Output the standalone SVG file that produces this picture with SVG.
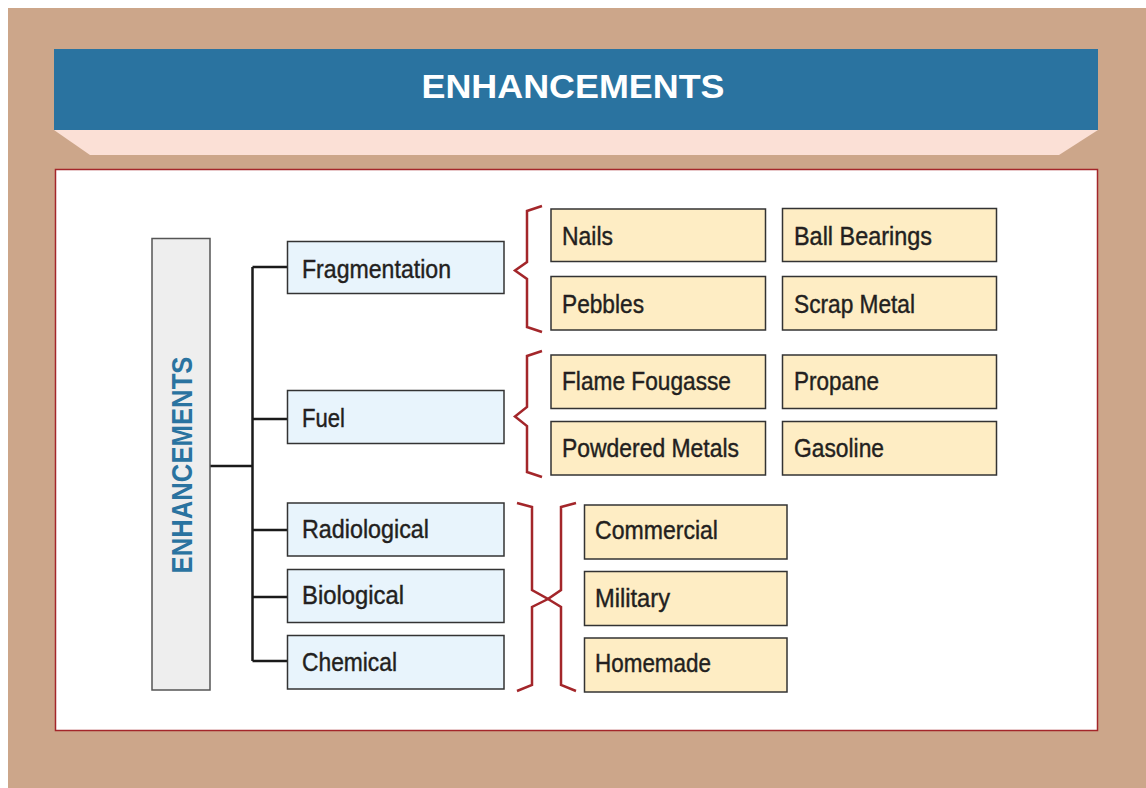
<svg xmlns="http://www.w3.org/2000/svg" width="1146" height="788" viewBox="0 0 1146 788">
<style>
.txt{font-family:"Liberation Sans",Arial,sans-serif;font-size:25px;fill:#231F20;stroke:#231F20;stroke-width:0.4}
.cat{fill:#E8F4FC;stroke:#333;stroke-width:1.5}
.item{fill:#FEEDC4;stroke:#333;stroke-width:1.5}
.brace{fill:none;stroke:#A3262A;stroke-width:2.5;stroke-linejoin:miter}
.conn{fill:none;stroke:#1A1A1A;stroke-width:2.5}
</style>
<rect x="0" y="0" width="1146" height="788" fill="#FFFFFF"/>
<rect x="8" y="8" width="1138" height="780" fill="#CCA68A"/>
<g id="header">
<rect x="54" y="49" width="1044" height="81" fill="#2A73A0"/>
<polygon points="54,130 1098,130 1059,155 90,155" fill="#FBE0D6"/>
<text x="573" y="97.5" text-anchor="middle" font-family="Liberation Sans,Arial,sans-serif" font-weight="bold" font-size="33.5" fill="#FFFFFF" textLength="303" lengthAdjust="spacingAndGlyphs">ENHANCEMENTS</text>
</g>
<rect x="55.5" y="169.5" width="1042" height="561" fill="#FFFFFF" stroke="#A3262A" stroke-width="1.5"/>
<g id="connectors">
<path class="conn" d="M210,466 H253 M252.5,267 V661 M252.5,267 H287 M252.5,419 H287 M252.5,530 H287 M252.5,597 H287 M252.5,661 H287"/>
<path class="brace" d="M542,206 L527,211 L527,262 L515,270.5 L527,279 L527,327 L542,332"/>
<path class="brace" d="M542,351 L527,356 L527,407 L515,416.5 L527,426 L527,472 L542,477"/>
<path class="brace" d="M517,503 L532,507 L532,590 L548,599 L532,607 L532,685 L517,691"/>
<path class="brace" d="M576,503 L561,507 L561,590 L548,599 L561,607 L561,685 L576,691"/>
</g>
<g id="root">
<rect x="152" y="238.5" width="58" height="451.5" fill="#EEEEEE" stroke="#555" stroke-width="1.5"/>
<text transform="translate(191.5,465) rotate(-90)" x="0" y="0" text-anchor="middle" font-family="Liberation Sans,Arial,sans-serif" font-weight="bold" font-size="29" fill="#2A73A0" textLength="217" lengthAdjust="spacingAndGlyphs">ENHANCEMENTS</text>
</g>
<g id="fragmentation"><rect class="cat" x="287.5" y="241.5" width="216.5" height="52"/><text class="txt" x="302" y="278" textLength="149" lengthAdjust="spacingAndGlyphs">Fragmentation</text></g>
<g id="fuel"><rect class="cat" x="287.5" y="390.5" width="216.5" height="53"/><text class="txt" x="302" y="427" textLength="43" lengthAdjust="spacingAndGlyphs">Fuel</text></g>
<g id="radiological"><rect class="cat" x="287.5" y="503" width="216.5" height="53"/><text class="txt" x="302" y="537.5" textLength="127" lengthAdjust="spacingAndGlyphs">Radiological</text></g>
<g id="biological"><rect class="cat" x="287.5" y="569.5" width="216.5" height="53"/><text class="txt" x="302" y="604" textLength="102" lengthAdjust="spacingAndGlyphs">Biological</text></g>
<g id="chemical"><rect class="cat" x="287.5" y="635.5" width="216.5" height="53.5"/><text class="txt" x="302" y="670.5" textLength="95" lengthAdjust="spacingAndGlyphs">Chemical</text></g>
<g id="nails"><rect class="item" x="551" y="209" width="214.5" height="52.5"/><text class="txt" x="562" y="245" textLength="51" lengthAdjust="spacingAndGlyphs">Nails</text></g>
<g id="pebbles"><rect class="item" x="551" y="276.5" width="214.5" height="53.5"/><text class="txt" x="562" y="312.5" textLength="82" lengthAdjust="spacingAndGlyphs">Pebbles</text></g>
<g id="flame-fougasse"><rect class="item" x="551" y="355" width="214.5" height="53.5"/><text class="txt" x="562" y="390" textLength="169" lengthAdjust="spacingAndGlyphs">Flame Fougasse</text></g>
<g id="powdered-metals"><rect class="item" x="551" y="421.5" width="214.5" height="53.5"/><text class="txt" x="562" y="456.5" textLength="177" lengthAdjust="spacingAndGlyphs">Powdered Metals</text></g>
<g id="ball-bearings"><rect class="item" x="782.5" y="208.5" width="214" height="53"/><text class="txt" x="794" y="244.5" textLength="138" lengthAdjust="spacingAndGlyphs">Ball Bearings</text></g>
<g id="scrap-metal"><rect class="item" x="782.5" y="276.5" width="214" height="53.5"/><text class="txt" x="794" y="312.5" textLength="121" lengthAdjust="spacingAndGlyphs">Scrap Metal</text></g>
<g id="propane"><rect class="item" x="782.5" y="355" width="214" height="53.5"/><text class="txt" x="794" y="390" textLength="85" lengthAdjust="spacingAndGlyphs">Propane</text></g>
<g id="gasoline"><rect class="item" x="782.5" y="421.5" width="214" height="53.5"/><text class="txt" x="794" y="456.5" textLength="90" lengthAdjust="spacingAndGlyphs">Gasoline</text></g>
<g id="commercial"><rect class="item" x="584.5" y="505" width="202.5" height="54"/><text class="txt" x="595" y="539" textLength="123" lengthAdjust="spacingAndGlyphs">Commercial</text></g>
<g id="military"><rect class="item" x="584.5" y="571.5" width="202.5" height="54"/><text class="txt" x="595" y="606.5" textLength="75" lengthAdjust="spacingAndGlyphs">Military</text></g>
<g id="homemade"><rect class="item" x="584.5" y="638" width="202.5" height="54"/><text class="txt" x="595" y="671.5" textLength="116" lengthAdjust="spacingAndGlyphs">Homemade</text></g>
</svg>
